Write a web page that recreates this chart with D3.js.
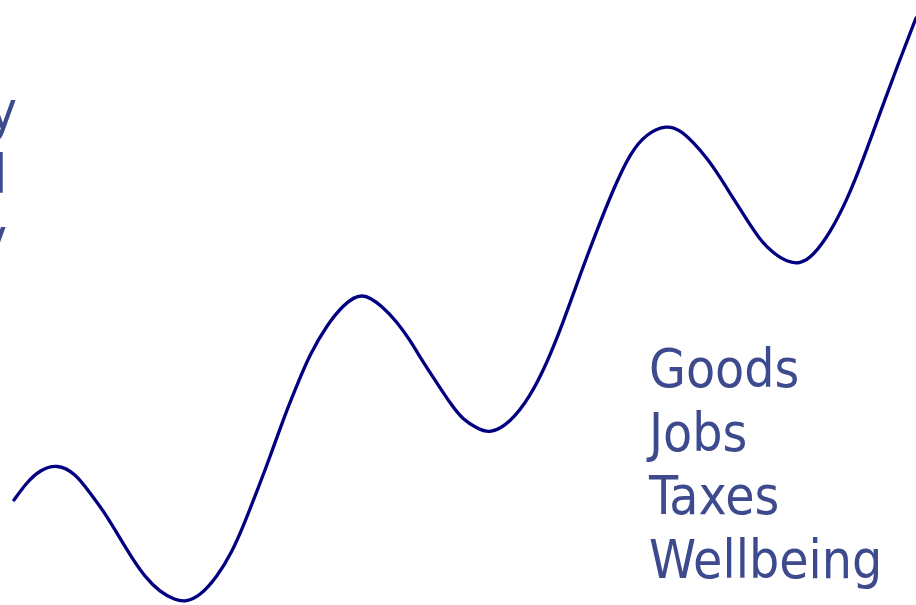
<!DOCTYPE html>
<html>
<head>
<meta charset="utf-8">
<script src="https://cdn.jsdelivr.net/npm/d3@7"></script>
<style>
  html, body { margin: 0; padding: 0; background: #ffffff; overflow: hidden; }
  svg { display: block; }
</style>
</head>
<body>
<script>
// Progress curve: horizontal position and level (measured upward from the baseline)
const xs = [14, 27, 40, 57, 75, 90, 105, 118, 132, 145, 160, 175, 186, 200, 217, 232, 243, 257, 270, 283, 297, 310, 327, 343, 362, 383, 397, 410, 423, 437, 450, 463, 477, 490, 510, 530, 547, 563, 580, 597, 613, 630, 647, 667, 680, 693, 707, 720, 733, 747, 760, 773, 787, 800, 813, 830, 847, 863, 880, 897, 916];
const levels = [105, 123, 135, 141, 132, 112, 92, 70, 47, 28, 13, 5, 3, 9, 28, 53, 78, 114, 148, 185, 220, 251, 280, 300, 314, 298, 283, 265, 243, 222, 202, 185, 177, 171, 182, 208, 242, 282, 330, 375, 415, 452, 472, 480, 475, 463, 447, 428, 407, 385, 365, 352, 343, 341, 349, 372, 405, 445, 492, 538, 587];

// Outcomes listed on the right
const outcomes = ["Goods", "Jobs", "Taxes", "Wellbeing"];
// Labels running off the left edge
const leftLabels = ["Society", "Land", "Economy"];

const W = 916, H = 605;
const svg = d3.select("body").append("svg").attr("width", W).attr("height", H);

const x = d3.scaleLinear().domain([0, 916]).range([0, W]);
const y = d3.scaleLinear().domain([0, 605]).range([H, 0]);

const pts = xs.map((v, i) => [v, levels[i]]);
const line = d3.line()
  .x(d => x(d[0]))
  .y(d => y(d[1]))
  .curve(d3.curveBasis);

svg.append("path")
  .datum(pts)
  .attr("d", line)
  .attr("fill", "none")
  .attr("stroke", "#000080")
  .attr("stroke-width", 3.3)
  .attr("stroke-linecap", "round")
  .attr("stroke-linejoin", "round");

const textColor = "#3e4a8e";
const font = "'DejaVu Sans Condensed', 'DejaVu Sans', sans-serif";

svg.append("g")
  .selectAll("text")
  .data(outcomes)
  .join("text")
  .attr("x", 649)
  .attr("y", (d, i) => 387 + i * 63.7)
  .attr("fill", textColor)
  .attr("font-family", font)
  .attr("font-size", 53)
  .text(d => d);

const leftEnds = [17, 7, 7];
svg.append("g")
  .selectAll("text")
  .data(leftLabels)
  .join("text")
  .attr("x", (d, i) => leftEnds[i])
  .attr("y", (d, i) => 129 + i * 63.7)
  .attr("text-anchor", "end")
  .attr("fill", textColor)
  .attr("font-family", font)
  .attr("font-size", 53)
  .text(d => d);
</script>
</body>
</html>
